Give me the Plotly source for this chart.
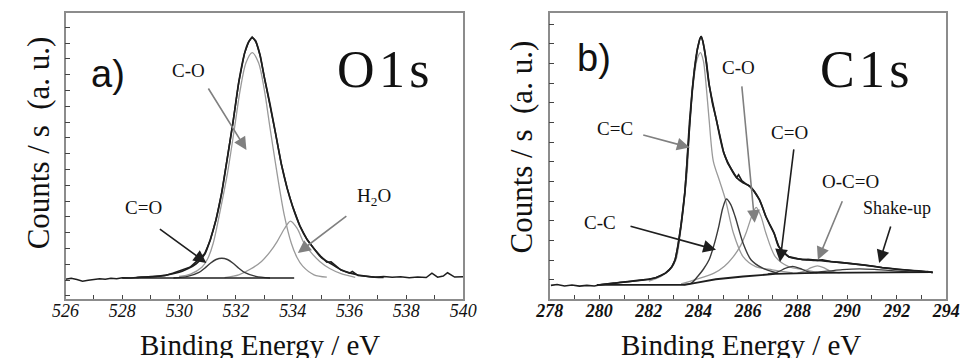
import plotly.graph_objects as go

# ---------------- Panel a) O1s ----------------
o1s_raw_e = [526.0, 526.2, 526.4, 526.6, 526.8, 527.0, 527.2, 527.4, 527.6, 527.8, 528.0, 528.3, 528.6,
             528.9, 529.2, 529.5, 529.8, 530.1, 530.4, 530.7, 530.9, 531.1, 531.3, 531.5, 531.7, 531.9,
             532.1, 532.3, 532.45, 532.57, 532.7, 532.85, 533.0, 533.2, 533.4, 533.6, 533.8, 534.0,
             534.25, 534.5, 534.75, 535.0, 535.2, 535.35, 535.5, 535.7, 536.0, 536.1, 536.3, 536.6,
             536.9, 537.2, 537.5, 537.8, 538.1, 538.4, 538.7, 538.9, 539.1, 539.3, 539.45, 539.7, 540.0]
o1s_raw_y = [-0.08, -0.02, -0.1, -0.2, -0.15, -0.1, -0.05, -0.08, -0.02, -0.05, 0.02, 0.0, 0.05,
             0.05, 0.12, 0.15, 0.32, 0.5, 0.7, 1.2, 1.55, 2.4, 3.7, 5.4, 7.6, 9.9,
             12.4, 14.2, 14.95, 15.25, 15.0, 14.1, 12.7, 11.0, 9.1, 7.2, 5.7, 4.5,
             3.3, 2.45, 1.85, 1.35, 1.0, 1.02, 0.8, 0.5, 0.3, 0.42, 0.15, 0.08,
             0.05, 0.1, 0.04, 0.08, 0.02, 0.07, 0.03, 0.3, 0.05, 0.12, 0.33, 0.06, 0.08]

o1s_env_e = [528.5, 529.0, 529.5, 530.0, 530.3, 530.6, 530.9, 531.1, 531.3, 531.5, 531.7, 531.9, 532.1,
             532.3, 532.45, 532.57, 532.7, 532.85, 533.0, 533.2, 533.4, 533.6, 533.8, 534.0, 534.25,
             534.5, 534.75, 535.0, 535.35, 535.7, 536.0, 536.3, 536.7, 537.2]
o1s_env_y = [0.03, 0.08, 0.17, 0.36, 0.58, 0.9, 1.5, 2.45, 3.7, 5.4, 7.6, 9.9, 12.4,
             14.2, 14.95, 15.19, 14.95, 14.1, 12.7, 11.0, 9.1, 7.2, 5.7, 4.5, 3.3,
             2.45, 1.85, 1.3, 0.9, 0.52, 0.32, 0.19, 0.09, 0.03]

o1s_co_e = [530.0, 530.4, 530.8, 531.0, 531.2, 531.45, 531.7, 531.95, 532.15, 532.35, 532.57, 532.8,
            533.0, 533.2, 533.45, 533.7, 533.95, 534.15, 534.35, 534.75, 535.2]
o1s_co_y = [0.1, 0.25, 0.68, 1.2, 2.2, 4.3, 6.6, 9.5, 11.9, 13.6, 14.26, 13.6,
            11.9, 9.5, 6.6, 4.0, 2.2, 1.3, 0.75, 0.2, 0.05]

o1s_cdo_e = [529.8, 530.3, 530.7, 530.9, 531.1, 531.3, 531.5, 531.7, 531.9, 532.1, 532.3, 532.7, 533.2]
o1s_cdo_y = [0.0, 0.1, 0.35, 0.62, 0.93, 1.17, 1.25, 1.17, 0.93, 0.62, 0.35, 0.1, 0.0]

o1s_h2o_e = [531.6, 532.1, 532.5, 532.9, 533.2, 533.45, 533.7, 533.92, 534.15, 534.4, 534.65, 534.95,
             535.3, 535.7, 536.2]
o1s_h2o_y = [0.02, 0.2, 0.55, 1.05, 1.65, 2.3, 3.1, 3.6, 3.15, 2.2, 1.6, 1.05, 0.6, 0.28, 0.04]

o1s_bg_e = [528.0, 534.05]
o1s_bg_y = [0.0, 0.0]

# ---------------- Panel b) C1s ----------------
c1s_raw_e = [278.05, 278.3, 278.6, 278.9, 279.2, 279.5, 279.8, 280.1, 280.58, 281.0, 281.4, 281.75,
             282.0, 282.3, 282.54, 282.67, 282.8, 282.93, 283.06, 283.18, 283.29, 283.38, 283.45,
             283.52, 283.65, 283.75, 283.84, 283.96, 284.05, 284.11, 284.18, 284.24, 284.33, 284.43,
             284.57, 284.72, 284.87, 285.02, 285.18, 285.33, 285.45, 285.54, 285.62, 285.75, 285.9,
             286.07, 286.25, 286.46, 286.6, 286.72, 286.88, 287.05, 287.24, 287.45, 287.64, 287.9,
             288.2, 288.42, 288.8, 289.0, 289.33, 289.7, 290.1, 290.63, 291.0, 291.4, 291.95, 292.3,
             292.7, 293.0, 293.25, 293.45]
c1s_raw_y = [-0.02, 0.02, -0.05, 0.0, -0.06, -0.02, -0.05, 0.02, 0.09, 0.14, 0.2, 0.26,
             0.28, 0.38, 0.51, 0.6, 0.75, 0.93, 1.28, 2.0, 2.97, 3.9, 4.68,
             5.87, 8.42, 9.9, 10.97, 12.0, 12.5, 12.64, 12.4, 12.0, 11.3, 10.2,
             9.2, 8.42, 7.5, 6.73, 6.2, 5.87, 5.6, 5.46, 5.6, 5.3, 5.15,
             5.02, 4.75, 4.34, 3.9, 3.48, 3.05, 2.64, 1.95, 1.65, 1.44, 1.35,
             1.28, 1.3, 1.25, 1.28, 1.19, 1.15, 1.1, 1.02, 0.96, 0.88, 0.8, 0.76,
             0.72, 0.7, 0.66, 0.63]

c1s_env_e = [280.0, 280.58, 281.75, 282.3, 282.67, 282.93, 283.06, 283.29, 283.45, 283.52, 283.65,
             283.84, 283.96, 284.11, 284.24, 284.43, 284.72, 285.02, 285.33, 285.54, 285.8, 286.07,
             286.46, 286.72, 287.05, 287.24, 287.64, 288.0, 288.42, 289.33, 290.63, 291.95, 293.25,
             293.45]
c1s_env_y = [0.0, 0.09, 0.26, 0.38, 0.6, 0.93, 1.28, 2.97, 4.68, 5.87, 8.42,
             10.97, 12.0, 12.64, 12.0, 10.2, 8.42, 6.73, 5.87, 5.46, 5.2, 5.02,
             4.34, 3.48, 2.64, 1.95, 1.44, 1.33, 1.28, 1.19, 1.02, 0.8, 0.68,
             0.63]

c1s_cc2_e = [282.0, 282.5, 282.9, 283.1, 283.3, 283.45, 283.55, 283.66, 283.85, 283.95, 284.08,
             284.2, 284.3, 284.43, 284.6, 284.85, 285.09, 285.41, 285.8, 286.31, 286.98, 287.8]
c1s_cc2_y = [0.2, 0.45, 0.85, 1.3, 2.9, 4.6, 5.8, 8.3, 10.8, 11.5, 11.82,
             11.4, 10.3, 8.42, 6.3, 5.3, 4.34, 2.64, 1.44, 0.93, 0.77, 0.62]

c1s_cc_e = [283.4, 283.71, 283.96, 284.2, 284.43, 284.62, 284.82, 284.98, 285.13, 285.3, 285.48,
            285.8, 286.12, 286.59, 287.2]
c1s_cc_y = [0.02, 0.09, 0.42, 0.8, 1.28, 2.0, 2.97, 3.9, 4.37, 4.1, 3.48,
            2.13, 1.28, 0.85, 0.6]

c1s_co_e = [283.3, 283.84, 284.63, 285.05, 285.41, 285.7, 285.92, 286.15, 286.33, 286.52, 286.72,
            287.1, 287.64, 288.27, 288.8]
c1s_co_y = [0.05, 0.26, 0.6, 0.95, 1.44, 2.0, 2.64, 3.5, 3.95, 3.5, 2.64,
            1.44, 0.93, 0.77, 0.64]

c1s_cdo_e = [286.8, 287.2, 287.5, 287.8, 288.1, 288.4, 288.8]
c1s_cdo_y = [0.56, 0.66, 0.84, 0.95, 0.84, 0.68, 0.61]

c1s_ocdo_e = [288.0, 288.3, 288.55, 288.8, 289.05, 289.3, 289.7]
c1s_ocdo_y = [0.6, 0.72, 0.88, 0.97, 0.88, 0.72, 0.62]

c1s_shk_e = [288.5, 289.2, 289.8, 290.5, 291.2, 291.9, 292.5, 293.0]
c1s_shk_y = [0.62, 0.7, 0.78, 0.82, 0.78, 0.72, 0.67, 0.64]

c1s_bg_e = [279.9, 283.45, 283.95, 284.7, 285.8, 287.1, 288.7, 291.0, 293.45]
c1s_bg_y = [0.0, 0.0, 0.12, 0.29, 0.43, 0.56, 0.61, 0.63, 0.65]

# ---------------- layout helpers ----------------
W, H = 971, 358
MT, MB = 13, 59
PH = H - MT - MB


def pxx(px):
    return px / W


def pxy(py):
    return (H - MB - py) / PH


DARK = "#1e1e1e"
DARK2 = "#3a3a3a"
GRAY = "#9a9a9a"
FRAME = "#8c8c8c"

fig = go.Figure()


def add_line(x, y, color, width, xa, ya, shape="spline"):
    fig.add_trace(go.Scatter(x=x, y=y, mode="lines", xaxis=xa, yaxis=ya, hoverinfo="skip",
                             line=dict(color=color, width=width, shape=shape,
                                       smoothing=0.8 if shape == "spline" else None)))


# panel a
add_line(o1s_h2o_e, o1s_h2o_y, GRAY, 1.3, "x", "y")
add_line(o1s_co_e, o1s_co_y, GRAY, 1.3, "x", "y")
add_line(o1s_cdo_e, o1s_cdo_y, DARK2, 1.4, "x", "y")
add_line(o1s_bg_e, o1s_bg_y, DARK, 1.6, "x", "y", "linear")
add_line(o1s_raw_e, o1s_raw_y, DARK, 1.5, "x", "y", "linear")
add_line(o1s_env_e, o1s_env_y, DARK, 1.7, "x", "y")

# panel b
add_line(c1s_cc2_e, c1s_cc2_y, GRAY, 1.3, "x2", "y2")
add_line(c1s_co_e, c1s_co_y, GRAY, 1.3, "x2", "y2")
add_line(c1s_ocdo_e, c1s_ocdo_y, GRAY, 1.3, "x2", "y2")
add_line(c1s_cc_e, c1s_cc_y, DARK2, 1.4, "x2", "y2")
add_line(c1s_cdo_e, c1s_cdo_y, DARK2, 1.3, "x2", "y2")
add_line(c1s_shk_e, c1s_shk_y, DARK2, 1.3, "x2", "y2")
add_line(c1s_bg_e, c1s_bg_y, DARK, 1.8, "x2", "y2", "linear")
add_line(c1s_raw_e, c1s_raw_y, DARK, 1.6, "x2", "y2", "linear")
add_line(c1s_env_e, c1s_env_y, DARK, 1.7, "x2", "y2")

serif = "Liberation Serif, Times New Roman, Times, DejaVu Serif, serif"
sans = "Liberation Sans, Arial, Helvetica, sans-serif"

xcommon = dict(showline=True, mirror=True, linecolor=FRAME, linewidth=1.5, showgrid=False,
               zeroline=False, ticks="inside", ticklen=4, tickcolor="#444", tickwidth=1.2,
               dtick=2, minor=dict(dtick=1, ticks="inside", ticklen=4, tickcolor="#444"),
               ticklabelstandoff=-5)
ycommon = dict(showline=True, mirror=True, linecolor=FRAME, linewidth=1.5, showgrid=False,
               zeroline=False, ticks="inside", ticklen=5, tickcolor="#444", tickwidth=1.2,
               showticklabels=False, dtick=1)

fig.update_layout(
    width=W, height=H, margin=dict(l=0, r=0, t=MT, b=MB),
    paper_bgcolor="white", plot_bgcolor="white", showlegend=False,
    font=dict(family=serif),
    xaxis=dict(xcommon, domain=[pxx(53), pxx(462)], range=[526, 540], anchor="y",
               tickfont=dict(family=serif, size=18, color="#111", style="italic")),
    yaxis=dict(ycommon, domain=[0, 1], range=[-1.33, 16.77], tick0=-0.13, anchor="x"),
    xaxis2=dict(xcommon, domain=[pxx(551), pxx(959)], range=[278, 294], anchor="y2",
                tickfont=dict(family=serif, size=18, color="#111", style="italic", weight="bold")),
    yaxis2=dict(ycommon, domain=[0, 1], range=[-0.714, 13.83], tick0=0.255, anchor="x2"),
)

ann = []


def text(px, py, s, size, family=serif, angle=0):
    ann.append(dict(x=pxx(px), y=pxy(py), xref="paper", yref="paper", text=s, showarrow=False,
                    xanchor="center", yanchor="middle", textangle=angle,
                    font=dict(family=family, size=size, color="#111")))


def arrow(xa, ya, x, y, ax, ay, color):
    ann.append(dict(x=x, y=y, xref=xa, yref=ya, ax=ax, ay=ay, axref="pixel", ayref="pixel",
                    text="", showarrow=True, arrowhead=2, arrowsize=1.6, arrowwidth=1.6,
                    arrowcolor=color))


# axis titles
text(25, 143, "Counts / s  (a. u.)", 31, angle=-90)
text(522, 147, "Counts / s  (a. u.)", 31, angle=-90)
text(253, 345, "Binding Energy / eV", 29)
text(748, 345, "Binding Energy / eV", 29)

# panel labels
text(97, 74, "a)", 38, family=sans)
text(597, 58, "b)", 38, family=sans)
text(380, 69, "O\u200a1\u200as", 52)
text(875, 69, "C\u200a1\u200as", 52)

# peak labels a
text(180, 70, "C-O", 19)
text(133, 207, "C=O", 19)
text(370, 197, "H<sub>2</sub>O", 19)
arrow("x", "y", 532.37, 8.10, -39, -63, "#808080")
arrow("x", "y", 530.96, 0.95, -48, -35, DARK)
arrow("x", "y", 534.18, 1.58, 50, -38, "#808080")

# peak labels b
text(618, 128, "C=C", 19)
text(745, 67, "C-O", 19)
text(798, 132, "C=O", 19)
text(603, 222, "C-C", 19)
text(860, 182, "O-C=O", 19)
text(908, 208, "Shake-up", 18)
arrow("x2", "y2", 283.65, 6.99, -48, -13, "#808080")
arrow("x2", "y2", 286.27, 3.16, -13, -138, "#808080")
arrow("x2", "y2", 287.29, 1.17, 14, -114, DARK)
arrow("x2", "y2", 284.71, 1.79, -87, -24, DARK)
arrow("x2", "y2", 288.82, 1.28, 25, -60, "#808080")
arrow("x2", "y2", 291.29, 1.12, 12, -38, DARK)

fig.update_layout(annotations=ann)
fig.write_html("out.html", config={"displayModeBar": False},
               post_script="document.body.style.margin='0px';document.body.style.overflow='hidden';")
